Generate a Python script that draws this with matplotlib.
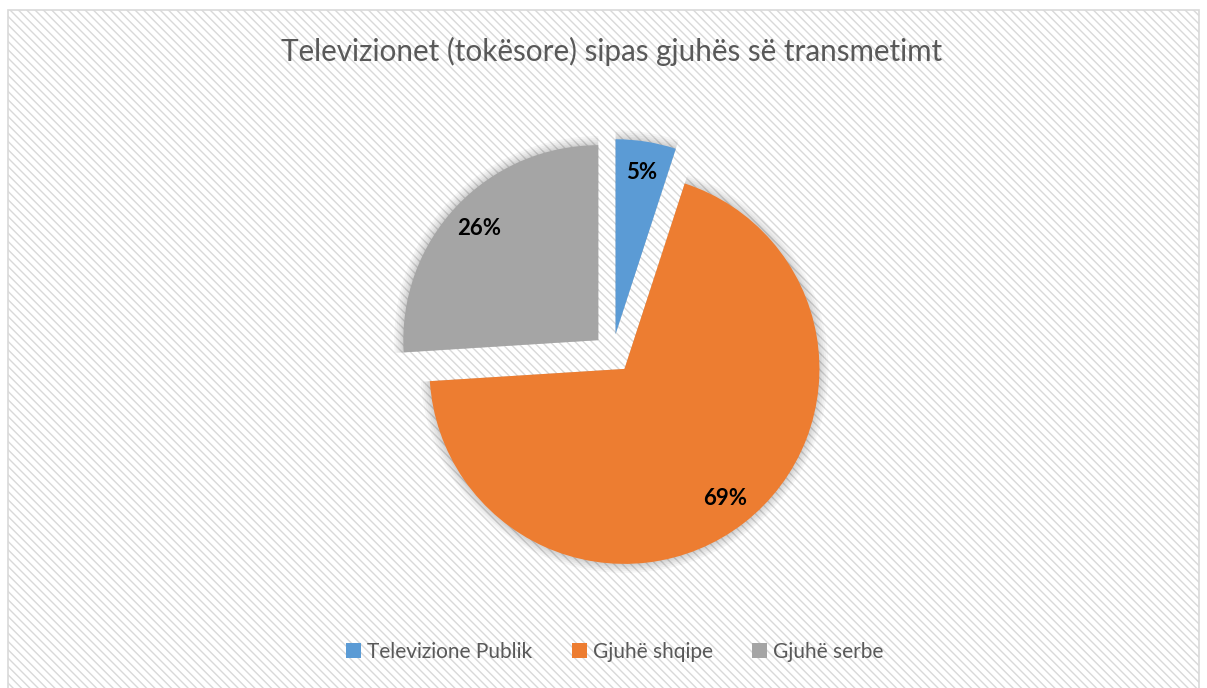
import matplotlib.pyplot as plt
from matplotlib.patches import Rectangle, Patch

# %%
categories = ['Televizione Publik', 'Gjuhë shqipe', 'Gjuhë serbe']
shares = [5, 69, 26]
colors = ['#5b9bd5', '#ed7d31', '#a5a5a5']
title = 'Televizionet (tokësore) sipas gjuhës së transmetimt'

plt.rcParams['font.family'] = ['Lato', 'DejaVu Sans']
plt.rcParams['hatch.linewidth'] = 1.0
plt.rcParams['hatch.color'] = '#f1f1f1'

W, H = 1207, 688
fig = plt.figure(figsize=(W / 100, H / 100), dpi=100)
ax = fig.add_axes([0, 0, 1, 1])

# chart area with faint diagonal stripes and thin border
ax.add_patch(Rectangle((8, -5), 1191, H - 10 + 5, facecolor='white', edgecolor='#d9d9d9',
                       hatch='\\\\\\\\', linewidth=1.2, zorder=0))

center = (612.5, H - 353.5)
radius = 195
gap = 19.5  # explode offset, data units

# soft shadow behind the slices
for s in [9, 7, 5, 3, 1.5]:
    ax.pie(shares, radius=radius + s, center=center, startangle=90, counterclock=False,
           explode=[gap] * 3, colors=['#000000'] * 3,
           wedgeprops=dict(alpha=0.035, linewidth=0), frame=True)

wedges, texts, autotexts = ax.pie(
    shares, radius=radius, center=center, startangle=90, counterclock=False,
    explode=[gap] * 3, colors=colors, autopct='%1.0f%%', pctdistance=0.84,
    wedgeprops=dict(linewidth=0), frame=True,
    textprops=dict(fontsize=16, fontweight='bold', color='black'))

ax.set_xlim(0, W)
ax.set_ylim(0, H)
ax.set_aspect('equal')
ax.axis('off')

fig.text(612 / W, 1 - 51 / H, title, ha='center', va='center', fontsize=21.3, color='#595959')

handles = [Patch(facecolor=c, edgecolor='none') for c in colors]
fig.legend(handles, categories, loc='center', bbox_to_anchor=(615 / W, 1 - 652 / H), ncol=3,
           frameon=False, fontsize=15, labelcolor='#595959', handlelength=0.7, handleheight=0.7,
           handletextpad=0.3, columnspacing=1.9)

fig.savefig('out.png', dpi=100)
